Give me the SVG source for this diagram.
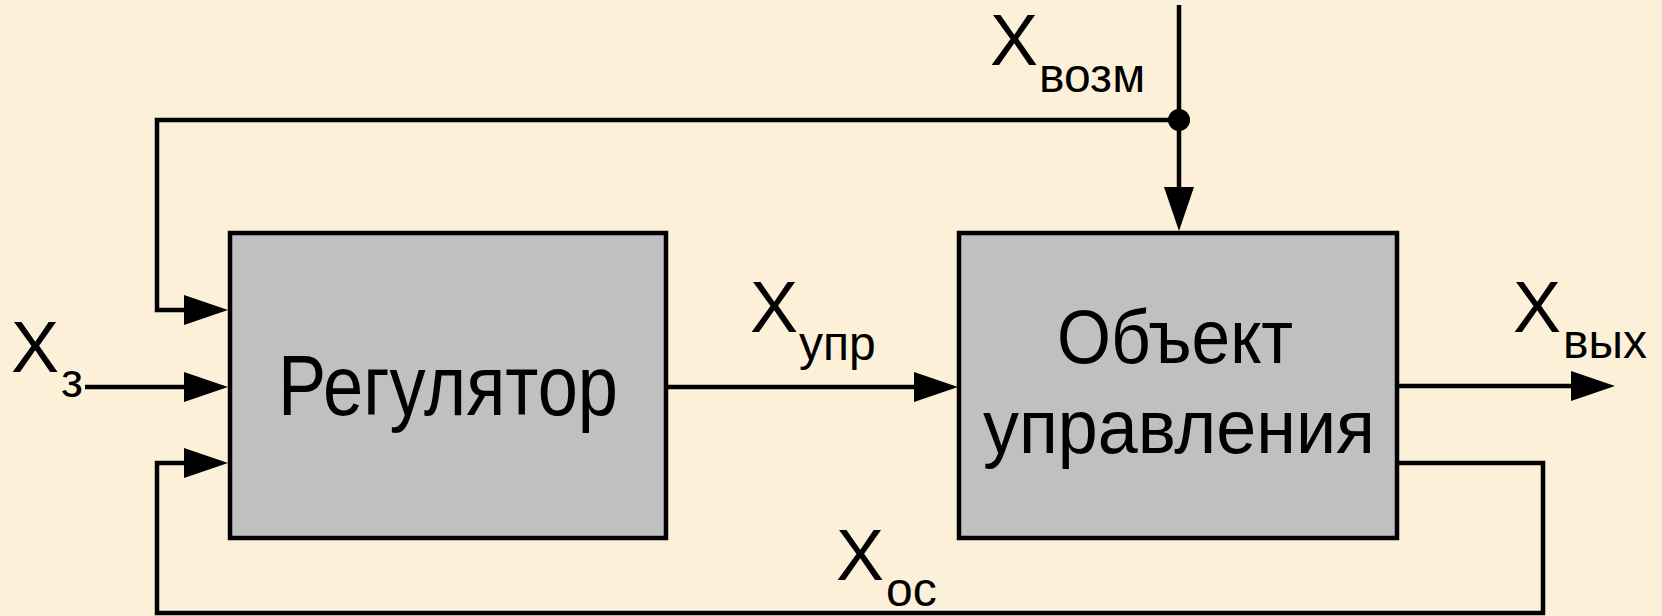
<svg xmlns="http://www.w3.org/2000/svg" width="1662" height="616" viewBox="0 0 1662 616">
  <style>
    .bg { fill: #fcf0d8; }
    .box { fill: #c0c0c0; stroke: #000; stroke-width: 4.5; }
    .wire { fill: none; stroke: #000; stroke-width: 4.5; stroke-linejoin: miter; }
    .t { font-family: "Liberation Sans", Arial, sans-serif; fill: #000; }
    .big { font-size: 72px; }
    .sub { font-size: 48px; }
    .node { font-size: 76px; }
  </style>
  <defs>
    <marker id="arr" markerUnits="userSpaceOnUse" markerWidth="44" markerHeight="30" viewBox="0 0 44 30" refX="1" refY="15" orient="auto">
      <path d="M0,0 L44,15 L0,30 z" fill="#000"/>
    </marker>
  </defs>
  <rect class="bg" x="0" y="0" width="1662" height="616"/>

  <g id="connectors">
    <path class="wire" d="M85,387 H185" marker-end="url(#arr)"/>
    <path class="wire" d="M1179,120 H157 V310 H185" marker-end="url(#arr)"/>
    <path class="wire" d="M1179,5 V188" marker-end="url(#arr)"/>
    <circle cx="1179" cy="120" r="11" fill="#000"/>
    <path class="wire" d="M666,387 H915" marker-end="url(#arr)"/>
    <path class="wire" d="M1397,386 H1572" marker-end="url(#arr)"/>
    <path class="wire" d="M1397,463 H1543 V613 H157 V463 H185" marker-end="url(#arr)"/>
  </g>

  <g id="regulator">
    <rect class="box" x="230" y="233" width="436" height="305"/>
    <text class="t" x="448" y="415" font-size="86" text-anchor="middle" textLength="340" lengthAdjust="spacingAndGlyphs">Регулятор</text>
  </g>

  <g id="object">
    <rect class="box" x="959" y="233" width="438" height="305"/>
    <text class="t node" x="1175" y="363" text-anchor="middle" textLength="236" lengthAdjust="spacingAndGlyphs">Объект</text>
    <text class="t node" x="1179" y="453" text-anchor="middle" textLength="392" lengthAdjust="spacingAndGlyphs">управления</text>
  </g>

  <g id="label-xz">
    <text class="t big" x="11" y="372">X</text>
    <text class="t sub" x="61" y="397">з</text>
  </g>
  <g id="label-xvozm">
    <text class="t big" x="990" y="65">X</text>
    <text class="t sub" x="1039" y="92">возм</text>
  </g>
  <g id="label-xupr">
    <text class="t big" x="750" y="332">X</text>
    <text class="t sub" x="799" y="360">упр</text>
  </g>
  <g id="label-xvyh">
    <text class="t big" x="1513" y="332">X</text>
    <text class="t sub" x="1563" y="358">вых</text>
  </g>
  <g id="label-xos">
    <text class="t big" x="836" y="580">X</text>
    <text class="t sub" x="886" y="606">ос</text>
  </g>
</svg>
